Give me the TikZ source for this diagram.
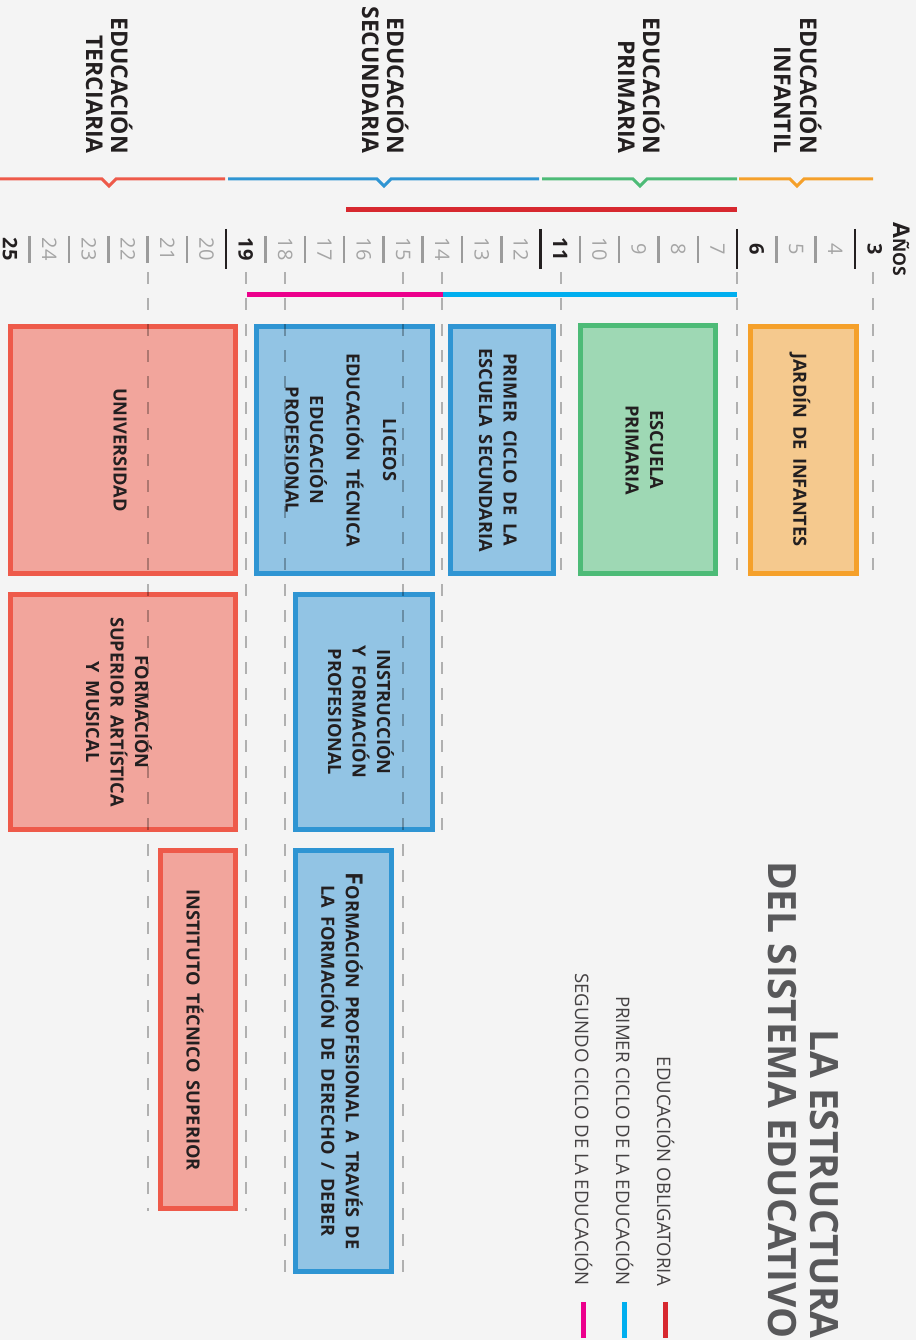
\documentclass[tikz,border=0pt]{standalone}
\usepackage{fontspec}
\setmainfont{Open Sans}
\newfontfamily\wfont[WordSpace=1.7]{Open Sans}
\definecolor{bg}{HTML}{F4F4F4}
\definecolor{txt}{HTML}{231F20}
\definecolor{ttl}{HTML}{58585A}
\definecolor{greyd}{HTML}{9B9B9B}
\definecolor{orS}{HTML}{F5A02A}\definecolor{orF}{HTML}{F5C98E}
\definecolor{grS}{HTML}{4DBB77}\definecolor{grF}{HTML}{9ED8B4}
\definecolor{blS}{HTML}{2F95D3}\definecolor{blF}{HTML}{92C4E4}
\definecolor{rdS}{HTML}{EE5A4A}\definecolor{rdF}{HTML}{F2A59C}
\definecolor{oblig}{HTML}{D7282F}
\definecolor{cyanb}{HTML}{00AEEF}
\definecolor{magb}{HTML}{EC008C}
\begin{document}
\begin{tikzpicture}[x=1pt,y=-1pt,
  hdr/.style={rotate=-90,anchor=base east,inner sep=0,text=txt,font=\bfseries\fontsize{23}{26}\selectfont},
  ttlstyle/.style={rotate=-90,anchor=base east,inner sep=0,text=ttl,font=\bfseries\fontsize{39}{44}\selectfont},
  leg/.style={rotate=-90,anchor=base east,inner sep=0,text=txt!85,font=\fontsize{18.6}{22}\selectfont},
  agelbl/.style={rotate=-90,inner sep=0,text=greyd!90,font=\fontsize{20}{22}\selectfont},
  ageb/.style={rotate=-90,inner sep=0,text=txt,font=\bfseries\fontsize{20}{22}\selectfont},
  boxlbl/.style={rotate=-90,inner sep=0,align=center,text=txt,font=\wfont\bfseries\fontsize{18.2}{24.5}\selectfont},
  hline/.style={line width=3pt},
  tickg/.style={draw=greyd,line width=2.5pt},
  tickb/.style={draw=txt,line width=2.5pt},
  guide/.style={draw=black,draw opacity=0.28,line width=2pt,dash pattern=on 12pt off 14pt},
  stagebox/.style={line width=5pt}
]
\useasboundingbox (0,0) rectangle (916,1340);
\fill[bg] (0,0) rectangle (916,1340);

% header lines with notches
\draw[hline,orS] (739,179) -- (790,179) -- (797,186) -- (804,179) -- (873,179);
\draw[hline,grS] (542,179) -- (633,179) -- (640,186) -- (647,179) -- (737,179);
\draw[hline,blS] (228,179) -- (377,179) -- (384,186) -- (391,179) -- (539,179);
\draw[hline,rdS] (0,179) -- (102,179) -- (109,186) -- (116,179) -- (225,179);

% headings
\node[hdr] (infA) at (800,154) {EDUCACIÓN};
\node[hdr] (infB) at (774,154) {INFANTIL};
\node[hdr] (priA) at (643,154) {EDUCACIÓN};
\node[hdr] (priB) at (618,154) {PRIMARIA};
\node[hdr] (secA) at (387,154) {EDUCACIÓN};
\node[hdr] (secB) at (362,154) {SECUNDARIA};
\node[hdr] (terA) at (111,154) {EDUCACIÓN};
\node[hdr] (terB) at (86,154) {TERCIARIA};

% compulsory and cycle bars
\fill[oblig] (346,207) rectangle (737,212);
\fill[cyanb] (443,292) rectangle (737,297);
\fill[magb] (247,292) rectangle (443,297);

% age axis
\node[rotate=-90,anchor=base,inner sep=0,text=txt,font=\bfseries] (anos) at (893,249)
  {{\fontsize{23}{23}\selectfont A}{\fontsize{17.5}{17.5}\selectfont ÑOS}};
\foreach \a in {4,5,7,8,9,10,12,13,14,15,16,17,18,20,21,22,23,24} {
  \pgfmathsetmacro\lx{874.65-39.3*(\a-3)}
  \node[agelbl] (age\a) at (\lx,249) {\a};
}
\foreach \a in {3,6,11,19,25} {
  \pgfmathsetmacro\lx{874.65-39.3*(\a-3)}
  \node[ageb] (age\a) at (\lx,249) {\a};
}
\foreach \a in {4,5,7,8,9,10,12,13,14,15,16,17,18,20,21,22,23,24} {
  \pgfmathsetmacro\tx{855-39.3*(\a-3)}
  \draw[tickg] (\tx,236) -- (\tx,263);
}
\foreach \a in {3,6,11,19} {
  \pgfmathsetmacro\tx{855-39.3*(\a-3)}
  \draw[tickb] (\tx,229) -- (\tx,269);
}

% boxes
\filldraw[stagebox,draw=orS,fill=orF] (750.5,326.5) rectangle (856.5,573.5);
\filldraw[stagebox,draw=grS,fill=grF] (580.5,325.5) rectangle (715.5,573.5);
\filldraw[stagebox,draw=blS,fill=blF] (450.5,326.5) rectangle (553.5,573.5);
\filldraw[stagebox,draw=blS,fill=blF] (256.5,326.5) rectangle (432.5,573.5);
\filldraw[stagebox,draw=rdS,fill=rdF] (10.5,326.5) rectangle (235.5,573.5);
\filldraw[stagebox,draw=rdS,fill=rdF] (10.5,594.5) rectangle (235.5,829.5);
\filldraw[stagebox,draw=blS,fill=blF] (295.5,594.5) rectangle (432.5,829.5);
\filldraw[stagebox,draw=rdS,fill=rdF] (160.5,850.5) rectangle (235.5,1208.5);
\filldraw[stagebox,draw=blS,fill=blF] (295.5,850.5) rectangle (391.5,1271.5);

% dashed guide lines
\draw[guide] (873,272) -- (873,575);
\draw[guide] (737,272) -- (737,575);
\draw[guide] (561,272) -- (561,575);
\draw[guide] (442,272) -- (442,833);
\draw[guide] (403,272) -- (403,1274);
\draw[guide] (285,272) -- (285,1274);
\draw[guide] (246,272) -- (246,1211);
\draw[guide] (148,272) -- (148,1211);

% box labels
\node[boxlbl] (jardin) at (800,450) {JARDÍN DE INFANTES};
\node[boxlbl] (escprim) at (644.5,450) {ESCUELA\\PRIMARIA};
\node[boxlbl] (primciclo) at (498,450) {PRIMER CICLO DE LA\\ESCUELA SECUNDARIA};
\node[boxlbl] (liceos) at (341,450) {LICEOS\\[12pt]EDUCACIÓN TÉCNICA\\[12pt]EDUCACIÓN\\PROFESIONAL};
\node[boxlbl] (univ) at (120,450) {UNIVERSIDAD};
\node[boxlbl] (formsup) at (119,712) {FORMACIÓN\\SUPERIOR ARTÍSTICA\\Y MUSICAL};
\node[boxlbl] (instr) at (361,712) {INSTRUCCIÓN\\Y FORMACIÓN\\PROFESIONAL};
\node[boxlbl] (itsup) at (195,1030) {INSTITUTO TÉCNICO SUPERIOR};
\node[boxlbl] (fpdual) at (342,1061) {{\fontsize{23.5}{23.5}\selectfont F}ORMACIÓN PROFESIONAL A TRAVÉS DE\\LA FORMACIÓN DE DERECHO / DEBER};

% title
\node[ttlstyle] (titA) at (810,1339) {LA ESTRUCTURA};
\node[ttlstyle] (titB) at (768,1339) {DEL SISTEMA EDUCATIVO};

% legend
\node[leg] (legA) at (657,1286) {EDUCACIÓN OBLIGATORIA};
\node[leg] (legB) at (616,1286) {PRIMER CICLO DE LA EDUCACIÓN};
\node[leg] (legC) at (575,1286) {SEGUNDO CICLO DE LA EDUCACIÓN};
\fill[oblig] (663,1302) rectangle (667.5,1338);
\fill[cyanb] (622,1302) rectangle (626.5,1338);
\fill[magb] (581,1302) rectangle (585.5,1338);
\end{tikzpicture}
\end{document}
